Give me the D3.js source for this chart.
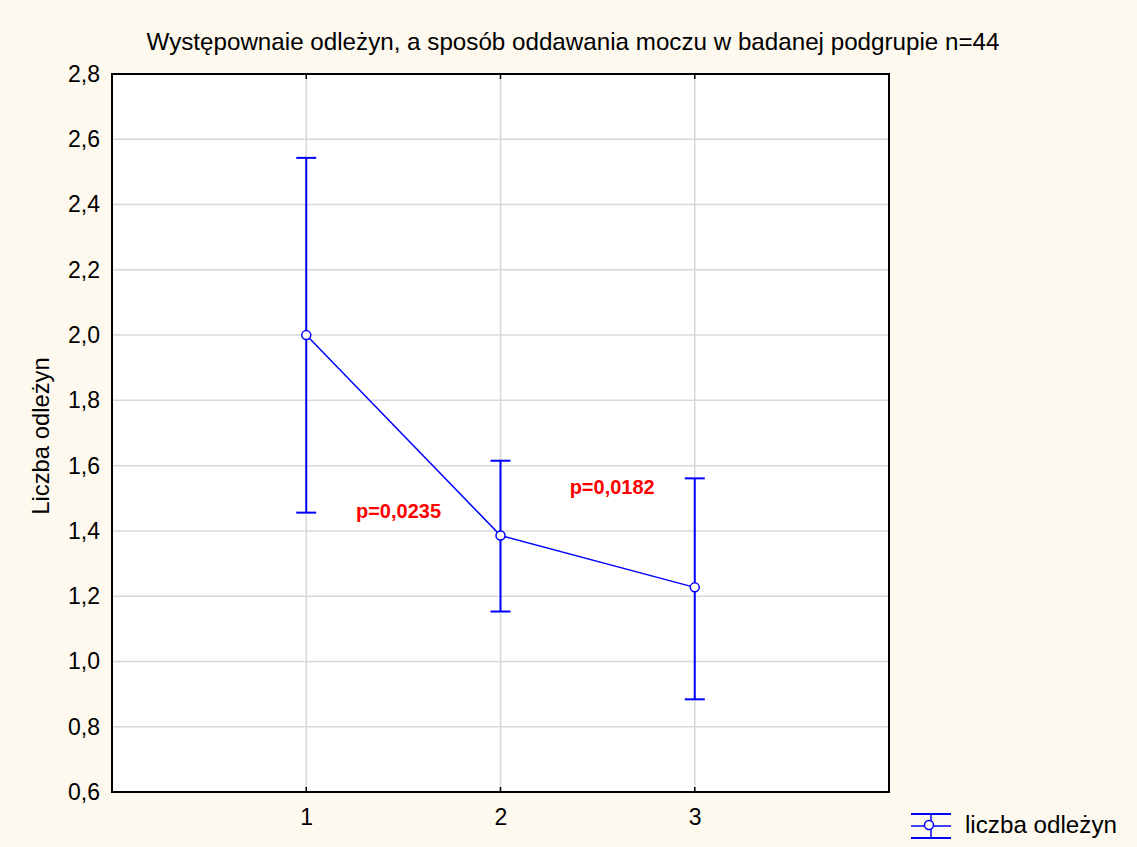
<!DOCTYPE html>
<html><head><meta charset="utf-8">
<script src="https://cdn.jsdelivr.net/npm/d3@7"></script>
<style>html,body{margin:0;padding:0;background:#FEF9EF;}svg{display:block;font-family:"Liberation Sans",Arial,sans-serif;}</style>
</head><body>
<svg id="c" width="1137" height="847"></svg>
<script>
const categories = [1, 2, 3];
const means = [2.0, 1.386, 1.227];
const upper = [2.543, 1.615, 1.561];
const lower = [1.456, 1.153, 0.884];
const yTicks = [0.6, 0.8, 1.0, 1.2, 1.4, 1.6, 1.8, 2.0, 2.2, 2.4, 2.6, 2.8];
const annotations = [{x: 1.475, y: 1.455, text: "p=0,0235"}, {x: 2.575, y: 1.53, text: "p=0,0182"}];
const title = "Występownaie odleżyn, a sposób oddawania moczu w badanej podgrupie n=44";
const yLabel = "Liczba odleżyn";
const legendLabel = "liczba odleżyn";

const svg = d3.select("#c");
svg.append("rect").attr("width",1137).attr("height",847).attr("fill","#FEF9EF");
const L=112, R=889, T=74, B=792;
const x = d3.scaleLinear().domain([0,4]).range([L,R]);
const y = d3.scaleLinear().domain([0.6,2.8]).range([B,T]);
const fmt = d => d3.format(".1f")(d).replace(".", ",");
const FF = "Liberation Sans, Arial, sans-serif";

svg.append("rect").attr("x",L).attr("y",T).attr("width",R-L).attr("height",B-T).attr("fill","#fff");
// grid
svg.append("g").selectAll("line").data(yTicks.slice(1,-1)).join("line")
  .attr("x1",L).attr("x2",R).attr("y1",d=>y(d)).attr("y2",d=>y(d))
  .attr("stroke","#d8d8d8").attr("stroke-width",1.5);
svg.append("g").selectAll("line").data(categories).join("line")
  .attr("x1",d=>x(d)).attr("x2",d=>x(d)).attr("y1",T).attr("y2",B)
  .attr("stroke","#d8d8d8").attr("stroke-width",1.5);
// axes
const yAxis = d3.axisLeft(y).tickValues(yTicks).tickFormat(fmt).tickSize(0).tickPadding(12);
const gy = svg.append("g").attr("transform",`translate(${L},0)`).call(yAxis);
gy.select(".domain").remove();
gy.selectAll("text").attr("font-size",23).attr("fill","#000").attr("font-family",FF);
const xAxis = d3.axisBottom(x).tickValues(categories).tickFormat(d3.format("d")).tickSize(0).tickPadding(17);
const gx = svg.append("g").attr("transform",`translate(0,${B})`).call(xAxis);
gx.select(".domain").remove();
gx.selectAll("text").attr("font-size",23).attr("fill","#000").attr("font-family",FF);
// tick marks top & bottom
svg.append("g").selectAll("line").data(categories).join("line")
  .attr("x1",d=>x(d)).attr("x2",d=>x(d)).attr("y1",T).attr("y2",T+5).attr("stroke","#000").attr("stroke-width",1.5);
svg.append("g").selectAll("line").data(categories).join("line")
  .attr("x1",d=>x(d)).attr("x2",d=>x(d)).attr("y1",B).attr("y2",B-5).attr("stroke","#000").attr("stroke-width",1.5);
svg.append("rect").attr("x",L).attr("y",T).attr("width",R-L).attr("height",B-T)
  .attr("fill","none").attr("stroke","#000").attr("stroke-width",2);

// title & labels
svg.append("text").attr("x",573).attr("y",50).attr("text-anchor","middle").attr("font-size",24.2).attr("font-family",FF).text(title);
svg.append("text").attr("transform",`translate(49,${(T+B)/2+3}) rotate(-90)`).attr("text-anchor","middle").attr("font-size",23.8).attr("font-family",FF).text(yLabel);

// data
const blue = "#0000ff";
const data = categories.map((c,i)=>({c, m:means[i], u:upper[i], l:lower[i]}));
svg.append("path").datum(data).attr("fill","none").attr("stroke",blue).attr("stroke-width",1.5)
  .attr("d", d3.line().x(d=>x(d.c)).y(d=>y(d.m)));
const g = svg.append("g");
g.selectAll(".v").data(data).join("line").attr("x1",d=>x(d.c)).attr("x2",d=>x(d.c))
  .attr("y1",d=>y(d.u)).attr("y2",d=>y(d.l)).attr("stroke",blue).attr("stroke-width",2);
g.selectAll(".cu").data(data).join("line").attr("x1",d=>x(d.c)-10).attr("x2",d=>x(d.c)+10)
  .attr("y1",d=>y(d.u)).attr("y2",d=>y(d.u)).attr("stroke",blue).attr("stroke-width",2);
g.selectAll(".cl").data(data).join("line").attr("x1",d=>x(d.c)-10).attr("x2",d=>x(d.c)+10)
  .attr("y1",d=>y(d.l)).attr("y2",d=>y(d.l)).attr("stroke",blue).attr("stroke-width",2);
g.selectAll("circle").data(data).join("circle").attr("cx",d=>x(d.c)).attr("cy",d=>y(d.m)).attr("r",4.5)
  .attr("fill","#fff").attr("stroke",blue).attr("stroke-width",1.5);

svg.append("g").selectAll("text").data(annotations).join("text")
  .attr("x",d=>x(d.x)).attr("y",d=>y(d.y)).attr("text-anchor","middle").attr("dominant-baseline","middle")
  .attr("font-size",20).attr("font-weight","bold").attr("fill","#ff0000").attr("font-family",FF).text(d=>d.text);

// legend
const lx=931, ly=826;
const lg = svg.append("g");
lg.append("line").attr("x1",lx-20).attr("x2",lx+20).attr("y1",ly).attr("y2",ly).attr("stroke",blue).attr("stroke-width",1.5);
lg.append("line").attr("x1",lx-20).attr("x2",lx+20).attr("y1",ly-12).attr("y2",ly-12).attr("stroke",blue).attr("stroke-width",2);
lg.append("line").attr("x1",lx-20).attr("x2",lx+20).attr("y1",ly+12).attr("y2",ly+12).attr("stroke",blue).attr("stroke-width",2);
lg.append("line").attr("x1",lx).attr("x2",lx).attr("y1",ly-12).attr("y2",ly+12).attr("stroke",blue).attr("stroke-width",1.5);
lg.append("circle").attr("cx",lx-2).attr("cy",ly-1).attr("r",4.5).attr("fill","#fff").attr("stroke",blue).attr("stroke-width",1.5);
lg.append("text").attr("x",965).attr("y",ly+1).attr("dominant-baseline","middle").attr("font-size",24.2).attr("font-family",FF).text(legendLabel);
</script>
</body></html>
